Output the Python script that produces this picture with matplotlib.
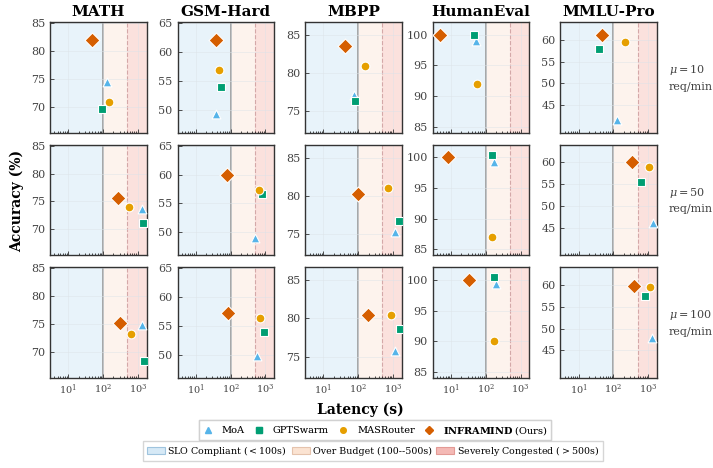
import matplotlib
matplotlib.use("Agg")
import matplotlib.pyplot as plt
from matplotlib.patches import Patch
from matplotlib.lines import Line2D

plt.rcParams["font.family"] = "DejaVu Serif"
plt.rcParams["mathtext.fontset"] = "dejavuserif"

datasets = ["MATH", "GSM-Hard", "MBPP", "HumanEval", "MMLU-Pro"]
rates = [10, 50, 100]

# latency (s) / accuracy (%) per arrival rate row, per dataset column
moa_lat = [[131, 39, 74, 53, 131],
           [1297, 515, 1115, 168, 1413],
           [1325, 576, 1160, 195, 1325]]
moa_acc = [[74.4, 49.2, 77.1, 99.0, 41.6],
           [73.7, 49.0, 75.2, 99.3, 46.0],
           [74.8, 49.8, 75.8, 99.3, 47.7]]

gpts_lat = [[91, 54, 81, 45, 37.5],
            [1387, 781, 1510, 147, 641],
            [1483, 891, 1580, 168, 834]]
gpts_acc = [[69.6, 54.0, 76.4, 100.0, 57.8],
            [71.1, 56.6, 76.7, 100.4, 55.4],
            [68.4, 54.0, 78.6, 100.5, 57.4]]

masr_lat = [[154, 48, 154, 56, 223],
            [550, 657, 717, 153, 1037],
            [641, 717, 873, 168, 1159]]
masr_acc = [[70.8, 56.8, 80.9, 91.9, 59.5],
            [74.0, 57.4, 81.0, 87.0, 58.9],
            [73.2, 56.4, 80.5, 90.1, 59.6]]

infra_lat = [[47, 37.5, 43, 4.9, 46],
             [279, 80, 100, 8, 347],
             [318, 85, 188, 34, 403]]
infra_acc = [[82.0, 62.0, 83.6, 100.0, 61.0],
             [75.6, 60.0, 80.3, 100.0, 60.0],
             [75.2, 57.2, 80.4, 100.0, 59.8]]

ylims = [(65.3, 85.2), (46.0, 65.2), (72.2, 86.7), (84.0, 102.1), (38.6, 64.1)]
yticks = [[70, 75, 80, 85], [50, 55, 60, 65], [75, 80, 85],
          [85, 90, 95, 100], [45, 50, 55, 60]]

methods = [
    ("MoA", moa_lat, moa_acc, "#56B4E9", "^", 40),
    ("GPTSwarm", gpts_lat, gpts_acc, "#009E73", "s", 40),
    ("MASRouter", masr_lat, masr_acc, "#E69F00", "o", 40),
    (r"$\mathbf{INFRAMIND}$ (Ours)", infra_lat, infra_acc, "#D55E00", "D", 58),
]

XMIN, XMAX = 3, 1800
C_OK, C_OVER, C_BAD = "#e8f3fa", "#fdf3ed", "#fbe1dd"

fig, axes = plt.subplots(3, 5, figsize=(7.13, 4.68), dpi=100)
fig.subplots_adjust(left=0.0701, right=0.9215, top=0.953, bottom=0.1923,
                    wspace=0.32, hspace=0.108)

for r in range(3):
    for c in range(5):
        ax = axes[r, c]
        ax.axvspan(XMIN, 100, color=C_OK, zorder=0, lw=0)
        ax.axvspan(100, 500, color=C_OVER, zorder=0, lw=0)
        ax.axvspan(500, XMAX, color=C_BAD, zorder=0, lw=0)
        ax.axvline(100, color="#999999", lw=1.2, zorder=1)
        ax.axvline(500, color="#d4a8a8", lw=0.8, ls="--", zorder=1)
        for name, lat, acc, col, mk, s in methods:
            ax.scatter(lat[r][c], acc[r][c], s=s, marker=mk, color=col,
                       edgecolor="white", linewidth=0.8, zorder=3)
        ax.set_xscale("log")
        ax.set_xlim(XMIN, XMAX)
        ax.set_ylim(*ylims[c])
        ax.set_yticks(yticks[c])
        ax.grid(True, color="#dde3e8", lw=0.5, alpha=0.7, zorder=0.5)
        ax.tick_params(direction="in", length=3, width=0.6, colors="#333333")
        ax.tick_params(axis="y", labelsize=8, labelcolor="#444444")
        ax.tick_params(axis="x", labelsize=7, labelcolor="#444444")
        ax.tick_params(which="minor", direction="in", length=1.8, width=0.5)
        ax.tick_params(axis="y", which="minor", left=False)
        for sp in ax.spines.values():
            sp.set_color("#333333")
            sp.set_linewidth(1.0)
        if r < 2:
            ax.tick_params(labelbottom=False)
        if r == 0:
            ax.set_title(datasets[c], fontsize=11, fontweight="bold", pad=4)
    axes[r, 4].text(1.12, 0.5, r"$\mu = %d$" % rates[r] + "\nreq/min",
                    transform=axes[r, 4].transAxes, fontsize=8,
                    color="#444444", va="center", ha="left", linespacing=1.6)

fig.text(0.024, 0.57, "Accuracy (%)", rotation=90, fontsize=10,
         fontweight="bold", ha="center", va="center")
fig.text(0.505, 0.125, "Latency (s)", fontsize=10, fontweight="bold",
         ha="center", va="center")

handles = [Line2D([], [], ls="", marker=mk, color=col, markersize=4)
           for name, lat, acc, col, mk, s in methods]
labels = [m[0] for m in methods]
leg1 = fig.legend(handles, labels, loc="center", bbox_to_anchor=(0.526, 0.081),
                  ncol=4, fontsize=7, frameon=True, fancybox=False,
                  edgecolor="#cccccc", handlelength=1.2, columnspacing=0.9,
                  borderpad=0.35)
fig.add_artist(leg1)

patches = [Patch(facecolor="#d6e9f6", edgecolor="#9fc4de", lw=0.8,
                 label=r"SLO Compliant ($<$100s)"),
           Patch(facecolor="#fbe3d2", edgecolor="#e5c3ad", lw=0.8,
                 label="Over Budget (100--500s)"),
           Patch(facecolor="#f4b9b5", edgecolor="#e39a95", lw=0.8,
                 label=r"Severely Congested ($>$500s)")]
fig.legend(handles=patches, loc="center", bbox_to_anchor=(0.523, 0.036),
           ncol=3, fontsize=6.8, frameon=True, fancybox=False,
           edgecolor="#cccccc", handlelength=1.9, handleheight=0.8,
           columnspacing=0.5, handletextpad=0.3, borderpad=0.35)

fig.savefig("out.png", dpi=100)
